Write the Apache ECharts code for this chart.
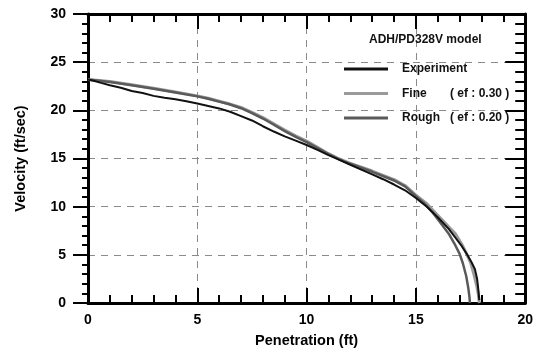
<!DOCTYPE html>
<html>
<head>
<meta charset="utf-8">
<script src="https://cdn.jsdelivr.net/npm/echarts@6/dist/echarts.min.js"></script>
<style>html,body{margin:0;padding:0;background:#fff;}#c{width:536px;height:353px;}</style>
</head>
<body>
<div id="c"></div>
<script>
// Data (penetration ft, velocity ft/sec)
var experimentX = [0,0.3,0.6,1,1.5,2,2.5,3,3.5,4,4.5,5,5.5,6,6.5,7,7.5,8,8.5,9,9.5,10,10.5,11,11.5,12,12.5,13,13.5,14,14.5,15,15.5,16,16.5,16.8,17.1,17.35,17.55,17.7,17.8,17.85,17.9];
var experimentY = [23.2,23.05,22.85,22.6,22.35,22.0,21.8,21.5,21.3,21.15,20.95,20.7,20.45,20.2,19.85,19.4,18.95,18.35,17.8,17.3,16.85,16.4,15.9,15.35,14.85,14.35,13.85,13.35,12.85,12.3,11.7,10.9,10.0,8.9,7.7,6.8,5.9,5.0,4.2,3.5,2.5,1.5,0.3];
var fineX = [0,1,2,3,4,5,5.5,6,6.5,7,7.5,8,8.5,9,9.5,10,10.5,11,11.5,12,13,14,14.5,15,15.5,16,16.5,16.8,17.1,17.3,17.5,17.65,17.78,17.85,17.9];
var fineY = [23.2,23.0,22.65,22.3,21.9,21.5,21.25,20.95,20.65,20.3,19.8,19.25,18.6,17.95,17.35,16.8,16.15,15.5,14.95,14.5,13.7,12.8,12.2,11.2,10.3,9.1,7.9,7.2,6.1,5.2,4.2,3.0,1.8,1.0,0];
var roughX = [0,1,2,3,4,5,5.5,6,6.5,7,7.5,8,8.5,9,9.5,10,10.5,11,11.5,12,13,14,14.5,15,15.4,15.8,16.2,16.5,16.8,17.0,17.15,17.3,17.4,17.45,17.47];
var roughY = [23.2,22.95,22.6,22.25,21.85,21.45,21.2,20.9,20.6,20.22,19.72,19.15,18.5,17.85,17.25,16.7,16.08,15.45,14.9,14.45,13.62,12.72,12.1,11.1,10.3,9.3,8.1,7.2,6.0,5.1,4.1,2.8,1.5,0.6,0];
var xTicks = {min:0, max:20, interval:5};
var yTicks = {min:0, max:30, interval:5};
var legendNames = ['Experiment','Fine','Rough'];
var legendNotes = {'Experiment':'', 'Fine':'( ef : 0.30 )', 'Rough':'( ef : 0.20 )'};
var chartTitle = 'ADH/PD328V model';
var xName = 'Penetration (ft)';
var yName = 'Velocity (ft/sec)';

function pairs(xs, ys){ return xs.map(function(x,i){ return [x, ys[i]]; }); }

var FONT = '"Liberation Sans", Arial, sans-serif';
var black = '#000';
function ts(){ return {color: black, width: 2}; }
var chart = echarts.init(document.getElementById('c'));

function xAx(pos, showLabels){
  return {
    type:'value', position: pos, min:xTicks.min, max:xTicks.max, interval:xTicks.interval,
    axisLine:{show:true, onZero:false, lineStyle:{color:black, width:3}},
    axisTick:{show:true, inside:true, length:15, lineStyle:ts()},
    minorTick:{show:true, splitNumber:5, length:8, lineStyle:ts()},
    axisLabel:{show:showLabels, margin:10, color:black, fontFamily:FONT, fontWeight:'bold', fontSize:14},
    splitLine:{show:showLabels, lineStyle:{color:'#8a8a8a', width:1, type:[7,6]}},
    name: showLabels ? xName : '', nameLocation:'middle', nameGap:30,
    nameTextStyle:{color:black, fontFamily:FONT, fontWeight:'bold', fontSize:14.5}
  };
}

var option = {
  animation:false,
  backgroundColor:'#fff',
  title:{text:chartTitle, left:364, top:29, textStyle:{color:'#111', fontFamily:FONT, fontWeight:'bold', fontSize:12}},
  legend:{
    data:legendNames, orient:'vertical', left:339, top:57,
    itemWidth:44, itemHeight:3, itemGap:10.5, icon:'rect',
    formatter:function(n){ return legendNotes[n] ? '{n|'+n+'}{e|'+legendNotes[n]+'}' : '{n|'+n+'}'; },
    textStyle:{color:'#111', fontFamily:FONT, fontWeight:'bold', fontSize:12, lineHeight:14, padding:[0,0,0,9],
      rich:{n:{width:48, fontFamily:FONT, fontWeight:'bold', fontSize:12, color:'#111'},
            e:{fontFamily:FONT, fontWeight:'bold', fontSize:12, color:'#111'}}}
  },
  grid:{left:88, right:8, top:14, bottom:46, containLabel:false},
  xAxis:[ xAx('bottom', true), xAx('top', false) ],
  yAxis:[
    {type:'value', position:'left', min:yTicks.min, max:yTicks.max, interval:yTicks.interval,
     axisLine:{show:true, onZero:false, lineStyle:{color:black, width:3}},
     axisTick:{show:true, inside:false, length:15, lineStyle:ts()},
     minorTick:{show:true, splitNumber:5, length:6, lineStyle:ts()},
     axisLabel:{margin:22, color:black, fontFamily:FONT, fontWeight:'bold', fontSize:14},
     splitLine:{show:true, lineStyle:{color:'#8a8a8a', width:1, type:[7,6]}},
     name:yName, nameLocation:'middle', nameGap:60, nameRotate:90,
     nameTextStyle:{color:black, fontFamily:FONT, fontWeight:'bold', fontSize:14.5}},
    {type:'value', position:'right', min:yTicks.min, max:yTicks.max, interval:yTicks.interval,
     axisLine:{show:true, onZero:false, lineStyle:{color:black, width:3}}, axisLabel:{show:false}, splitLine:{show:false},
     axisTick:{show:true, inside:true, length:20, lineStyle:ts()},
     minorTick:{show:true, splitNumber:5, length:10, lineStyle:ts()}}
  ],
  series:[
    {name:'Fine', type:'line', showSymbol:false, symbol:'none', data:pairs(fineX, fineY), color:'#9a9a9a', lineStyle:{width:3, color:'#9a9a9a'}, z:2},
    {name:'Rough', type:'line', showSymbol:false, symbol:'none', data:pairs(roughX, roughY), color:'#5a5a5a', lineStyle:{width:2.5, color:'#5a5a5a'}, z:3},
    {name:'Experiment', type:'line', showSymbol:false, symbol:'none', data:pairs(experimentX, experimentY), color:'#111', lineStyle:{width:2, color:'#111'}, z:4}
  ]
};
chart.setOption(option);
</script>
</body>
</html>
